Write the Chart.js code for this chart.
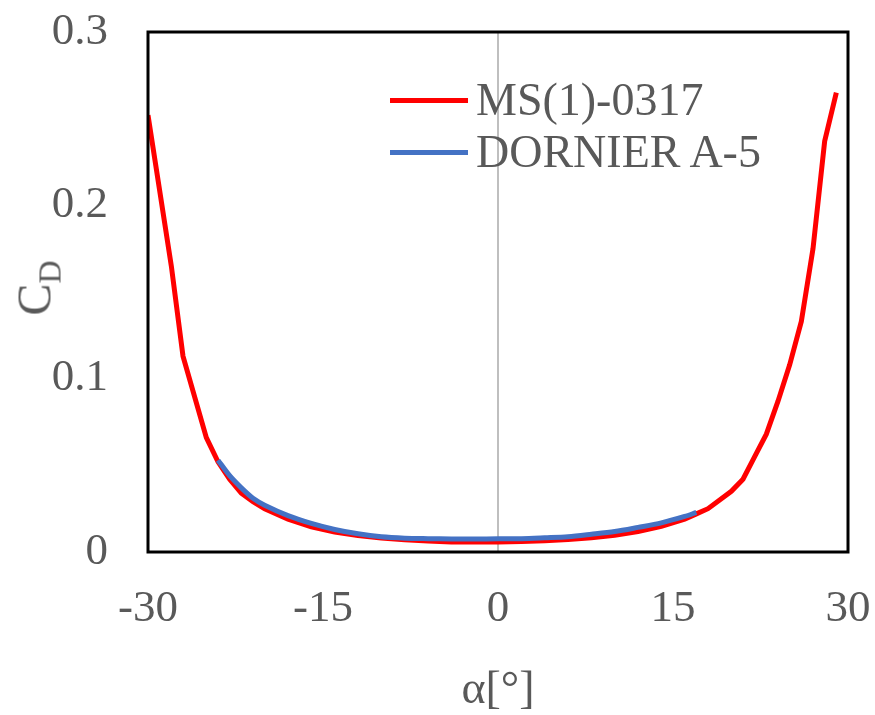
<!DOCTYPE html>
<html>
<head>
<meta charset="utf-8">
<script src="https://cdn.jsdelivr.net/npm/chart.js@4.4.1/dist/chart.umd.min.js"></script>
<style>
  html, body { margin: 0; padding: 0; background: #fff; }
  #wrap { position: relative; width: 875px; height: 715px; font-family: "Liberation Serif", "Times New Roman", serif; color: #595959; }
  canvas { position: absolute; left: 0; top: 0; }
  .ov { position: absolute; white-space: nowrap; }
  .leg { position: absolute; font-size: 46px; line-height: 46px; }
  .sw { position: absolute; height: 5px; }
</style>
</head>
<body>
<div id="wrap">
  <canvas id="c" width="875" height="715"></canvas>
  <div class="ov" id="ytitle" style="left:37px; top:288px; transform: translate(-50%,-50%) rotate(-90deg); font-size:48px; line-height:48px;">C<span style="font-size:32px; position:relative; top:10px;">D</span></div>
  <div class="ov" id="xtitle" style="left:498px; top:688px; transform: translate(-50%,-50%); font-size:46px; line-height:46px;">α[°]</div>
  <div class="sw" style="left:390px; top:98px; width:78px; background:#FF0000;"></div>
  <div class="leg" style="left:476px; top:77px;">MS(1)-0317</div>
  <div class="sw" style="left:390px; top:150px; width:78px; background:#4472C4;"></div>
  <div class="leg" style="left:476px; top:129px;">DORNIER A-5</div>
</div>
<script>
// ---- data ----
const seriesNames = ['MS(1)-0317', 'DORNIER A-5'];
const alphaRed = [-30, -28, -27, -25, -24, -23, -22, -21, -20, -18, -16, -14, -12, -10, -8, -6, -4, -2, 0, 2, 4, 6, 8, 10, 12, 14, 16, 17, 18, 19, 20, 21, 22, 23, 24, 25, 26, 27, 28, 29];
const cdRed    = [0.252, 0.165, 0.113, 0.066, 0.052, 0.042, 0.034, 0.029, 0.025, 0.019, 0.0145, 0.0115, 0.0095, 0.008, 0.007, 0.0063, 0.0058, 0.0058, 0.0058, 0.006, 0.0065, 0.0072, 0.0082, 0.0097, 0.0118, 0.0148, 0.019, 0.022, 0.025, 0.030, 0.035, 0.042, 0.055, 0.068, 0.087, 0.108, 0.133, 0.175, 0.237, 0.265];
const alphaBlue = [-24, -23, -22, -21, -20, -18, -16, -14, -12, -10, -8, -6, -4, -2, 0, 2, 4, 6, 8, 10, 12, 14, 16, 17];
const cdBlue    = [0.053, 0.044, 0.037, 0.031, 0.027, 0.021, 0.0165, 0.013, 0.0105, 0.0088, 0.008, 0.0077, 0.0075, 0.0075, 0.0076, 0.0077, 0.0082, 0.0088, 0.0102, 0.0118, 0.0142, 0.0168, 0.0205, 0.0228];
const xTicks = [-30, -15, 0, 15, 30];
const yTicks = [0, 0.1, 0.2, 0.3];
const yTickLabels = ['0', '0.1', '0.2', '0.3'];

const toXY = (xs, ys) => xs.map((x, i) => ({ x: x, y: ys[i] }));

const fontFam = '"Liberation Serif", "Times New Roman", serif';

const frame = {
  id: 'frame',
  afterDatasetsDraw(chart) {
    const a = chart.chartArea, ctx = chart.ctx;
    ctx.save();
    ctx.strokeStyle = '#000';
    ctx.lineWidth = 3;
    ctx.strokeRect(a.left, a.top, a.right - a.left, a.bottom - a.top);
    ctx.restore();
  }
};

new Chart(document.getElementById('c'), {
  type: 'line',
  data: {
    datasets: [
      { label: seriesNames[1], data: toXY(alphaBlue, cdBlue), borderColor: '#4472C4', backgroundColor: '#4472C4', borderWidth: 5, pointRadius: 0, tension: 0.3, order: 0 },
      { label: seriesNames[0], data: toXY(alphaRed, cdRed), borderColor: '#FF0000', backgroundColor: '#FF0000', borderWidth: 5, pointRadius: 0, tension: 0, order: 1 }
    ]
  },
  options: {
    responsive: false,
    animation: false,
    layout: { padding: { top: 32, right: 27, left: 0, bottom: 0 } },
    plugins: { legend: { display: false }, tooltip: { enabled: false } },
    scales: {
      x: {
        type: 'linear', min: -30, max: 30,
        afterBuildTicks: s => { s.ticks = xTicks.map(v => ({ value: v })); },
        afterFit: s => { s.height = 163; s.paddingLeft = 0; s.paddingRight = 0; },
        grid: {
          drawTicks: false,
          color: c => (c.tick && c.tick.value === 0) ? '#BFBFBF' : 'rgba(0,0,0,0)',
          lineWidth: 2
        },
        border: { display: false },
        ticks: { color: '#595959', font: { family: fontFam, size: 45 }, padding: 30, maxRotation: 0, autoSkip: false }
      },
      y: {
        type: 'linear', min: 0, max: 0.3,
        afterBuildTicks: s => { s.ticks = yTicks.map(v => ({ value: v })); },
        afterFit: s => { s.width = 148; s.paddingTop = 0; s.paddingBottom = 0; },
        grid: { display: false, drawTicks: false },
        border: { display: false },
        ticks: { color: '#595959', font: { family: fontFam, size: 45 }, padding: 40,
                 callback: (v, i) => yTickLabels[i] }
      }
    }
  },
  plugins: [frame]
});
</script>
</body>
</html>
